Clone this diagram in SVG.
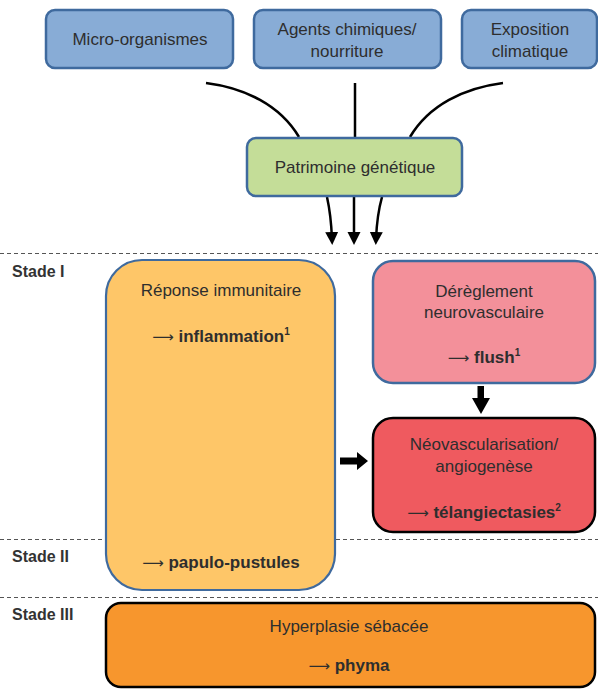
<svg xmlns="http://www.w3.org/2000/svg" width="598" height="689" viewBox="0 0 598 689">
<defs>
<marker id="ah" markerUnits="userSpaceOnUse" markerWidth="14" markerHeight="14" refX="7" refY="6.5" orient="auto">
<path d="M0,0 L13,6.5 L0,13 z" fill="#000"/>
</marker>
<style>
.t{font-family:"Liberation Sans",Arial,sans-serif;font-size:17px;fill:#2e2e2e;text-anchor:middle}
.b{font-weight:bold}
.ar{font-family:"DejaVu Sans",sans-serif;font-size:15px;font-weight:normal}
.sup{font-size:10px;font-weight:bold}
.st{font-family:"Liberation Sans",Arial,sans-serif;font-size:16px;font-weight:bold;fill:#333}
.blue{fill:#88acd6;stroke:#3f6a9e;stroke-width:2.5}
.dash{stroke:#555;stroke-width:1.2;stroke-dasharray:4 3}
.con{fill:none;stroke:#000;stroke-width:2.5}
</style>
</defs>
<rect width="598" height="689" fill="#fff"/>
<g id="separators">
<line class="dash" x1="0" y1="253.5" x2="598" y2="253.5"/>
<line class="dash" x1="0" y1="539.5" x2="598" y2="539.5"/>
<line class="dash" x1="0" y1="597.5" x2="598" y2="597.5"/>
</g>
<g id="stages">
<text class="st" x="12" y="277">Stade I</text>
<text class="st" x="12" y="562">Stade II</text>
<text class="st" x="12" y="620">Stade III</text>
</g>
<g id="micro">
<rect class="blue" x="46" y="10" width="187" height="58" rx="9"/>
<text class="t" x="140" y="45">Micro-organismes</text>
</g>
<g id="agents">
<rect class="blue" x="254" y="10" width="187" height="58" rx="9"/>
<text class="t" x="347" y="35">Agents chimiques/</text>
<text class="t" x="347" y="57">nourriture</text>
</g>
<g id="exposition">
<rect class="blue" x="462" y="10" width="135" height="58" rx="9"/>
<text class="t" x="530" y="35">Exposition</text>
<text class="t" x="530" y="57">climatique</text>
</g>
<g id="connectors">
<path class="con" d="M206,83 C245,88 280,105 299,137"/>
<line class="con" x1="355" y1="83" x2="355" y2="137"/>
<path class="con" d="M503,83 C464,88 429,105 410,137"/>
<path class="con" d="M327,197 Q331,215 332,239" marker-end="url(#ah)"/>
<line class="con" x1="354" y1="197" x2="354" y2="239" marker-end="url(#ah)"/>
<path class="con" d="M382,197 Q377,215 376,239" marker-end="url(#ah)"/>
<polygon points="477.5,386 484,386 484,398 490,398 481,414 472,398 477.5,398" fill="#000"/>
<polygon points="340,457.5 357,457.5 357,452 368,461 357,470 357,464.5 340,464.5" fill="#000"/>
</g>
<g id="patrimoine">
<rect x="247" y="138" width="215" height="58" rx="9" fill="#c4dd98" stroke="#3f6a9e" stroke-width="2.5"/>
<text class="t" x="355" y="173">Patrimoine génétique</text>
</g>
<g id="immunitaire">
<rect x="106" y="260" width="229" height="330" rx="36" fill="#fec668" stroke="#3f6a9e" stroke-width="2.2"/>
<text class="t" x="221" y="296">Réponse immunitaire</text>
<text class="t" x="221" y="342"><tspan class="ar">⟶</tspan> <tspan class="b">inflammation</tspan><tspan class="sup" dy="-7">1</tspan></text>
<text class="t" x="221" y="568"><tspan class="ar">⟶</tspan> <tspan class="b">papulo-pustules</tspan></text>
</g>
<g id="neurovasculaire">
<rect x="373" y="261" width="222" height="122" rx="20" fill="#f3909a" stroke="#3f6a9e" stroke-width="2.5"/>
<text class="t" x="484" y="297">Dérèglement</text>
<text class="t" x="484" y="318">neurovasculaire</text>
<text class="t" x="484" y="363"><tspan class="ar">⟶</tspan> <tspan class="b">flush</tspan><tspan class="sup" dy="-7">1</tspan></text>
</g>
<g id="neovascularisation">
<rect x="373" y="418" width="222" height="114" rx="20" fill="#ef5a5f" stroke="#000" stroke-width="2.5"/>
<text class="t" x="484" y="450">Néovascularisation/</text>
<text class="t" x="484" y="472">angiogenèse</text>
<text class="t" x="484" y="518"><tspan class="ar">⟶</tspan> <tspan class="b">télangiectasies</tspan><tspan class="sup" dy="-7">2</tspan></text>
</g>
<g id="hyperplasie">
<rect x="106" y="603" width="489" height="84" rx="15" fill="#f7962d" stroke="#000" stroke-width="2.5"/>
<text class="t" x="349" y="632">Hyperplasie sébacée</text>
<text class="t" x="349" y="671"><tspan class="ar">⟶</tspan> <tspan class="b">phyma</tspan></text>
</g>
</svg>
